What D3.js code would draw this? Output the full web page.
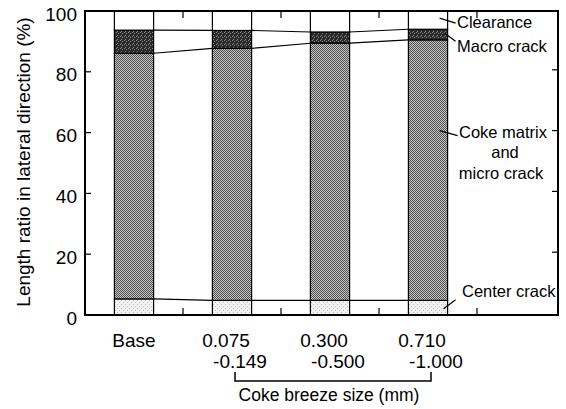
<!DOCTYPE html>
<html>
<head>
<meta charset="utf-8">
<script src="https://cdn.jsdelivr.net/npm/d3@7"></script>
<style>
  body { margin: 0; background: #fff; }
  text { font-family: "Liberation Sans", Arial, sans-serif; fill: #000; }
</style>
</head>
<body>
<script>
// categories and stacked layer sizes (%), bottom to top
const categories = ["Base", "0.075-0.149", "0.300-0.500", "0.710-1.000"];
const labelLine1 = ["Base", "0.075", "0.300", "0.710"];
const labelLine2 = ["", "-0.149", "-0.500", "-1.000"];
const centerCrack = [5.3, 4.8, 4.8, 4.8];
const cokeMatrix = [80.8, 82.9, 84.6, 85.7];
const macroCrack = [7.6, 5.9, 3.7, 3.5];
const clearance = categories.map((c, i) => 100 - centerCrack[i] - cokeMatrix[i] - macroCrack[i]);
const yTicks = [0, 20, 40, 60, 80, 100];

const W = 566, H = 409;
const mLeft = 85, mRight = 558, mTop = 11, mBottom = 315;

const svg = d3.select("body").append("svg")
    .attr("width", W)
    .attr("height", H);

const defs = svg.append("defs");
function pattern(id, bg, fg, cells) {
    let p = defs.append("pattern")
        .attr("id", id)
        .attr("width", 4).attr("height", 4)
        .attr("patternUnits", "userSpaceOnUse");
    p.append("rect").attr("width", 4).attr("height", 4).attr("fill", bg);
    cells.forEach(c => p.append("rect")
        .attr("x", c[0]).attr("y", c[1])
        .attr("width", 1).attr("height", 1)
        .attr("fill", fg));
}
pattern("pMatrix", "#c4c4c4", "#505050", [[0, 0], [2, 0], [1, 1], [3, 1], [0, 2], [2, 2], [1, 3], [3, 3]]);
pattern("pMacro", "#2a2a2a", "#8a8a8a", [[0, 0], [2, 1], [1, 3]]);
pattern("pCenter", "#f2f2f2", "#bdbdbd", [[1, 0], [3, 2]]);

const x = d3.scaleBand()
    .domain(categories)
    .range([mLeft, mLeft + 98 * 4])
    .padding(0);
const y = d3.scaleLinear().domain([0, 100]).range([mBottom, mTop]);
const bw = x.bandwidth() * 0.4;
const bx = d => x(d) + (x.bandwidth() - bw) / 2;

const layers = [
    { name: "center", vals: centerCrack, fill: "url(#pCenter)" },
    { name: "matrix", vals: cokeMatrix, fill: "url(#pMatrix)" },
    { name: "macro", vals: macroCrack, fill: "url(#pMacro)" },
    { name: "clear", vals: clearance, fill: "#fff" }
];
const stacked = d3.stack()
    .keys(layers.map(l => l.name))
    .value((d, key) => layers.find(l => l.name == key).vals[d])(categories.map((c, i) => i));

stacked.forEach((s, li) => {
    svg.selectAll(null)
        .data(s)
        .enter()
        .append("rect")
        .attr("x", (d, i) => bx(categories[i]))
        .attr("width", bw)
        .attr("y", d => y(d[1]))
        .attr("height", d => y(d[0]) - y(d[1]))
        .attr("fill", layers[li].fill)
        .attr("stroke", "#000")
        .attr("stroke-width", 1.2);
});

// connecting lines between bars at each layer boundary
stacked.slice(0, 3).forEach(s => {
    for (let i = 0; i < categories.length - 1; i++) {
        svg.append("line")
            .attr("x1", bx(categories[i]) + bw)
            .attr("x2", bx(categories[i + 1]))
            .attr("y1", y(s[i][1]))
            .attr("y2", y(s[i + 1][1]))
            .attr("stroke", "#000")
            .attr("stroke-width", 1.2);
    }
});

// frame
svg.append("rect")
    .attr("x", mLeft).attr("y", mTop)
    .attr("width", mRight - mLeft).attr("height", mBottom - mTop)
    .attr("fill", "none")
    .attr("stroke", "#000")
    .attr("stroke-width", 2);

// y axis ticks and labels
yTicks.slice(1, -1).forEach(t => {
    svg.append("line").attr("x1", mLeft).attr("x2", mLeft + 6)
        .attr("y1", y(t)).attr("y2", y(t)).attr("stroke", "#000").attr("stroke-width", 1.2);
    svg.append("line").attr("x1", mRight - 6).attr("x2", mRight)
        .attr("y1", y(t) - 2).attr("y2", y(t) - 2).attr("stroke", "#000").attr("stroke-width", 1.2);
});
svg.selectAll(".ytl")
    .data(yTicks)
    .enter()
    .append("text")
    .attr("x", mLeft - 8)
    .attr("y", d => y(d) + 3)
    .attr("dy", "0.35em")
    .attr("text-anchor", "end")
    .attr("font-size", 19)
    .text(d => d);

// top and bottom ticks at band boundaries
categories.forEach(c => {
    let xb = x(c) + x.bandwidth();
    svg.append("line").attr("x1", xb).attr("x2", xb)
        .attr("y1", mTop).attr("y2", mTop + 7).attr("stroke", "#000").attr("stroke-width", 1.2);
    svg.append("line").attr("x1", xb).attr("x2", xb)
        .attr("y1", mBottom).attr("y2", mBottom - 7).attr("stroke", "#000").attr("stroke-width", 1.2);
});

// x labels
svg.selectAll(".xl1")
    .data(categories)
    .enter()
    .append("text")
    .attr("x", (d, i) => x(d) + x.bandwidth() / 2 + (i == 0 ? 0 : -6))
    .attr("y", 347)
    .attr("text-anchor", "middle")
    .attr("font-size", 19)
    .text((d, i) => labelLine1[i]);
svg.selectAll(".xl2")
    .data(categories)
    .enter()
    .append("text")
    .attr("x", d => x(d) + x.bandwidth() / 2 + 8)
    .attr("y", 368)
    .attr("text-anchor", "middle")
    .attr("font-size", 19)
    .text((d, i) => labelLine2[i]);

// bracket
const bl = x(categories[1]) + x.bandwidth() / 2 + 3;
const br = x(categories[3]) + x.bandwidth() / 2 + 3;
svg.append("path")
    .attr("d", `M${bl},372V381H${br}V372`)
    .attr("fill", "none")
    .attr("stroke", "#000")
    .attr("stroke-width", 1.5);
svg.append("text")
    .attr("x", (bl + br) / 2 - 4)
    .attr("y", 401)
    .attr("text-anchor", "middle")
    .attr("font-size", 17.5)
    .text("Coke breeze size (mm)");

// y title
svg.append("text")
    .attr("transform", "translate(30,162) rotate(-90)")
    .attr("text-anchor", "middle")
    .attr("font-size", 19)
    .text("Length ratio in lateral direction (%)");

// annotations
const last = categories.length - 1;
const ex = bx(categories[last]) + bw;
function note(x1, y1, x2, y2) {
    svg.append("line").attr("x1", x1).attr("y1", y1).attr("x2", x2).attr("y2", y2)
        .attr("stroke", "#000").attr("stroke-width", 1.2);
}
note(ex - 8, y(100 - clearance[last] / 2) - 2, ex + 8, y(100 - clearance[last] / 2) + 3);
note(ex - 3, y(stacked[2][last][1]) + 4, ex + 8, y(stacked[2][last][1]) + 12);
note(ex - 8, y(60) - 2, ex + 10, y(60) + 3);
note(ex - 4, y(centerCrack[last] / 2) + 1, ex + 8, y(centerCrack[last] / 2) - 8);

const ann = svg.append("g").attr("font-size", 16.5);
ann.append("text").attr("x", 457).attr("y", 28).text("Clearance");
ann.append("text").attr("x", 457).attr("y", 52).text("Macro crack");
ann.append("text").attr("x", 503).attr("y", 138).attr("text-anchor", "middle").text("Coke matrix");
ann.append("text").attr("x", 505).attr("y", 158).attr("text-anchor", "middle").text("and");
ann.append("text").attr("x", 501).attr("y", 179).attr("text-anchor", "middle").text("micro crack");
ann.append("text").attr("x", 462).attr("y", 297).text("Center crack");
</script>
</body>
</html>
